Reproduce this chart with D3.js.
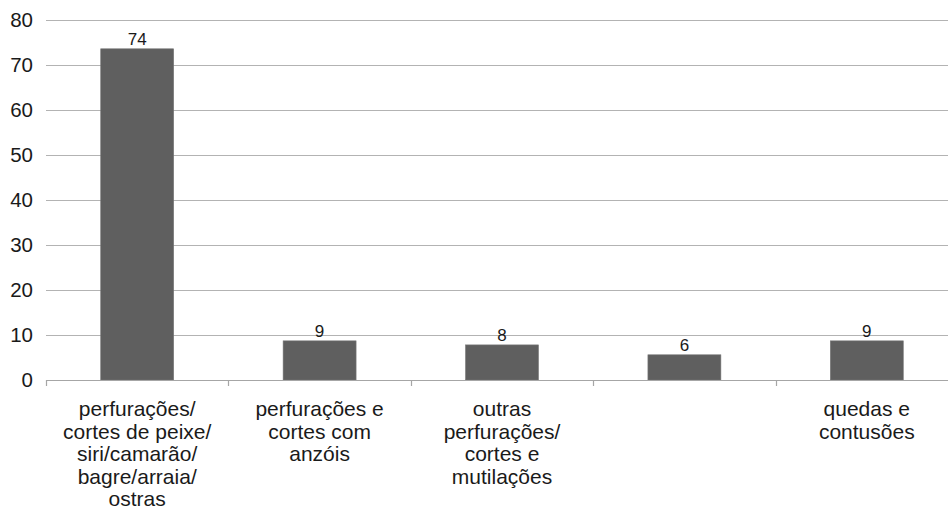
<!DOCTYPE html>
<html>
<head>
<meta charset="utf-8">
<script src="https://cdn.jsdelivr.net/npm/d3@7"></script>
<style>
    body { margin: 0; background: #fff; }
    svg { display: block; font-family: 'Liberation Sans', Arial, sans-serif; }
</style>
</head>
<body>
<div id="chart"></div>
<script>
(function() {
    'use strict';

    // categories (lines split with \n), the 4th one has no label in the source
    var categories = [
        'perfurações/\ncortes de peixe/\nsiri/camarão/\nbagre/arraia/\nostras',
        'perfurações e\ncortes com\nanzóis',
        'outras\nperfurações/\ncortes e\nmutilações',
        '',
        'quedas e\ncontusões'
    ];
    var values = [73.6, 8.7, 7.8, 5.6, 8.7];
    var valueLabels = ['74', '9', '8', '6', '9'];
    var yTicks = [0, 10, 20, 30, 40, 50, 60, 70, 80];

    var width = 948, height = 510;
    var margin = {top: 20, right: -10, bottom: 130, left: 46};

    var svg = d3.select('#chart').append('svg')
        .attr('width', width)
        .attr('height', height);

    var x = d3.scaleBand()
        .domain(d3.range(categories.length))
        .range([margin.left, width - margin.right])
        .paddingInner(0.6)
        .paddingOuter(0.3);

    // category slots, used for the tick marks and label centres
    var slot = d3.scaleBand()
        .domain(d3.range(categories.length))
        .range([margin.left, width - margin.right])
        .padding(0);

    var y = d3.scaleLinear()
        .domain([0, 80])
        .range([height - margin.bottom, margin.top]);

    // grid lines
    svg.append('g')
        .selectAll('line')
        .data(yTicks.slice(1))
        .enter()
        .append('line')
        .attr('x1', margin.left)
        .attr('x2', width)
        .attr('y1', function(d) { return y(d) + 0.5; })
        .attr('y2', function(d) { return y(d) + 0.5; })
        .attr('stroke', '#b3b3b3')
        .attr('stroke-width', 1);

    // y tick labels
    svg.append('g')
        .selectAll('text')
        .data(yTicks)
        .enter()
        .append('text')
        .attr('x', 33)
        .attr('y', function(d) { return y(d); })
        .attr('dy', '0.36em')
        .attr('text-anchor', 'end')
        .attr('font-size', '20.5px')
        .attr('fill', '#1a1a1a')
        .text(function(d) { return d; });

    // bars
    svg.append('g')
        .selectAll('rect')
        .data(values)
        .enter()
        .append('rect')
        .attr('x', function(d, i) { return x(i); })
        .attr('y', function(d) { return y(d); })
        .attr('width', x.bandwidth())
        .attr('height', function(d) { return y(0) - y(d); })
        .attr('fill', '#5f5f5f')
        .attr('stroke', '#777')
        .attr('stroke-width', 0.6);

    // value labels
    svg.append('g')
        .selectAll('text')
        .data(values)
        .enter()
        .append('text')
        .attr('x', function(d, i) { return x(i) + x.bandwidth() / 2; })
        .attr('y', function(d) { return y(d) - 3.5; })
        .attr('text-anchor', 'middle')
        .attr('font-size', '17px')
        .attr('fill', '#1a1a1a')
        .text(function(d, i) { return valueLabels[i]; });

    // x axis line and ticks
    var axis = svg.append('g');
    axis.append('line')
        .attr('x1', margin.left)
        .attr('x2', width)
        .attr('y1', y(0) + 0.5)
        .attr('y2', y(0) + 0.5)
        .attr('stroke', '#a6a6a6')
        .attr('stroke-width', 1.2);

    axis.selectAll('.tick')
        .data(d3.range(categories.length))
        .enter()
        .append('line')
        .attr('class', 'tick')
        .attr('x1', function(i) { return Math.round(slot(i)) + 0.5; })
        .attr('x2', function(i) { return Math.round(slot(i)) + 0.5; })
        .attr('y1', y(0))
        .attr('y2', y(0) + 6)
        .attr('stroke', '#a6a6a6')
        .attr('stroke-width', 1.2);

    // category labels
    var labels = svg.append('g')
        .selectAll('text')
        .data(categories)
        .enter()
        .append('text')
        .attr('text-anchor', 'middle')
        .attr('font-size', '21px')
        .attr('fill', '#1a1a1a');

    labels.each(function(d, i) {
        var t = d3.select(this);
        var cx = slot(i) + slot.bandwidth() / 2;
        d.split('\n').forEach(function(line, k) {
            if (!line) return;
            t.append('tspan')
                .attr('x', cx)
                .attr('y', 416 + k * 22.6)
                .text(line);
        });
    });
})();
</script>
</body>
</html>
